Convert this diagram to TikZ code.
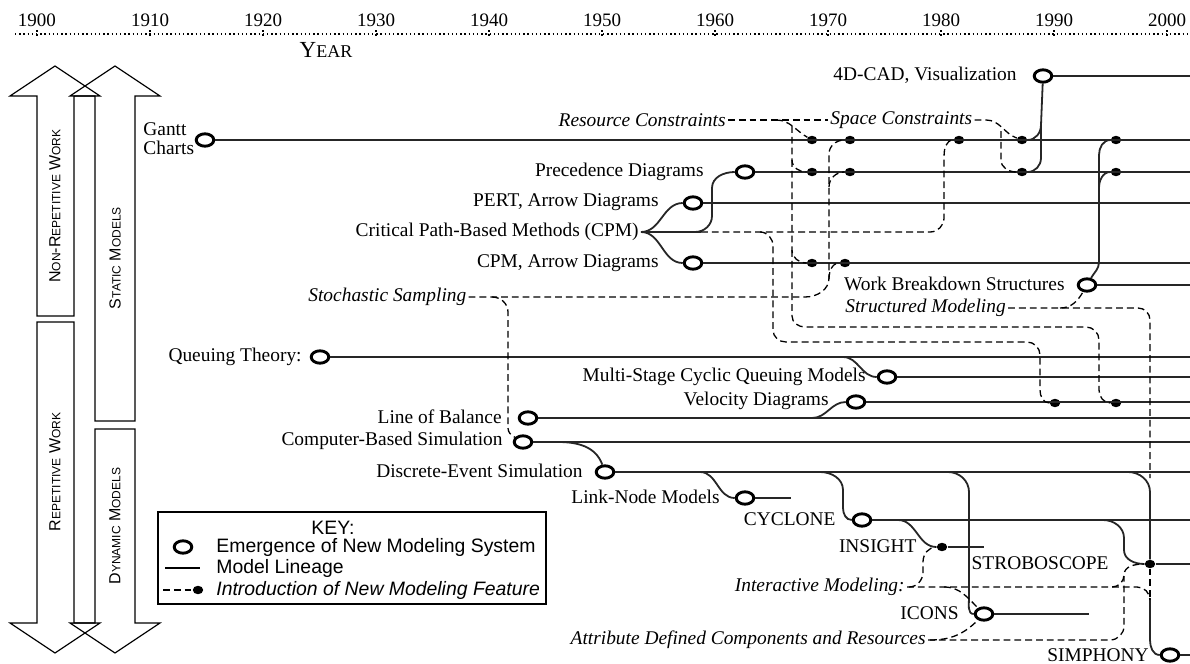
\documentclass[tikz,border=0pt]{standalone}
\usepackage{fontspec}
\setmainfont{Liberation Serif}
\setsansfont{Liberation Sans}
\usetikzlibrary{shapes.geometric,positioning}

\newcommand{\lowcap}[1]{{\fontsize{6}{6}\selectfont #1}}

\tikzset{
  sys/.style={ellipse, draw, line width=1.45pt, minimum width=8.8pt, minimum height=6.2pt, inner sep=0pt},
  feat/.style={ellipse, fill, minimum width=5.2pt, minimum height=4.2pt, inner sep=0pt},
  lineage/.style={line width=0.9pt, black!85},
  ftr/.style={line width=0.65pt, dash pattern=on 3.4pt off 2pt},
  lbl/.style={inner sep=1pt},
  ilbl/.style={inner sep=1pt, font=\fontsize{9.7}{11}\selectfont\itshape},
  band/.style={draw, line width=0.6pt},
  bandtxt/.style={rotate=90, font=\sffamily\fontsize{8}{8}\selectfont},
  keytxt/.style={anchor=west, inner sep=0pt, font=\sffamily\fontsize{9.7}{11}\selectfont},
}

\begin{document}
\begin{tikzpicture}[x=0.5pt, y=-0.5pt, font=\fontsize{9.7}{11}\selectfont]
  \useasboundingbox (0,0) rectangle (1190,664);
  \coordinate (edge) at (1190,0);

  % year scale
  \draw[line width=0.7pt, dash pattern=on 0.7pt off 1.4pt] (15,34) -- (1190,34);
  \foreach \yr [count=\i from 0] in {1900,1910,...,2000} {
    \node[font=\fontsize{9.5}{11}\selectfont] (y\yr) at (37+113*\i,20) {\yr};
    \draw[line width=0.9pt, dash pattern=on 1pt off 1pt] (37+113*\i,30) -- (37+113*\i,37);
  }
  \node (year) at (326,50) {{\fontsize{11.5}{12}\selectfont Y}{\fontsize{9}{10}\selectfont EAR}};

  % work / model bands
  \draw[band] (37,316) -- (37,96) -- (10,96) -- (55,66) -- (100,96) -- (74,96) -- (74,316) -- cycle;
  \draw[band] (37,322) -- (37,623) -- (10,623) -- (55,653) -- (100,623) -- (74,623) -- (74,322) -- cycle;
  \draw[band] (95,421) -- (95,96) -- (70,96) -- (115,66) -- (160,96) -- (135,96) -- (135,421) -- cycle;
  \draw[band] (95,429) -- (95,623) -- (70,623) -- (115,653) -- (160,623) -- (135,623) -- (135,429) -- cycle;
  \node[bandtxt] (nrw) at (55,206) {N\lowcap{ON}-R\lowcap{EPETITIVE} W\lowcap{ORK}};
  \node[bandtxt] (rw) at (55,472) {R\lowcap{EPETITIVE} W\lowcap{ORK}};
  \node[bandtxt] (stat) at (115,258) {S\lowcap{TATIC} M\lowcap{ODELS}};
  \node[bandtxt] (dyn) at (115,526) {D\lowcap{YNAMIC} M\lowcap{ODELS}};

  % systems
  \node[sys] (cad) at (1043,76) {};
  \node[sys] (gantt) at (205,140) {};
  \node[sys] (prec) at (745,172) {};
  \node[sys] (pert) at (693,203) {};
  \node[sys] (cpma) at (693,263) {};
  \node[sys] (wbs) at (1087,285) {};
  \node[sys] (queue) at (320,357) {};
  \node[sys] (multi) at (887,377) {};
  \node[sys] (velo) at (856,402) {};
  \node[sys] (lob) at (528,418) {};
  \node[sys] (cbs) at (523,442) {};
  \node[sys] (des) at (605,472) {};
  \node[sys] (link) at (745,498) {};
  \node[sys] (cyclone) at (862,520) {};
  \node[sys] (icons) at (984,614) {};
  \node[sys] (simphony) at (1170,655) {};
  \node[feat] (insight) at (942,547) {};
  \node[feat] (strobo) at (1150,564) {};

  % feature dots
  \node[feat] (g1) at (812,140) {};
  \node[feat] (g2) at (850,140) {};
  \node[feat] (g3) at (959,140) {};
  \node[feat] (g4) at (1022,140) {};
  \node[feat] (g5) at (1116,140) {};
  \node[feat] (p1) at (812,172) {};
  \node[feat] (p2) at (850,172) {};
  \node[feat] (p3) at (1022,172) {};
  \node[feat] (p4) at (1116,172) {};
  \node[feat] (c1) at (812,263) {};
  \node[feat] (c2) at (845,263) {};
  \node[feat] (v1) at (1055,403) {};
  \node[feat] (v2) at (1116,403) {};

  % labels
  \node[lbl, anchor=east] (lcad) at (1019,75) {4D-CAD, Visualization};
  \node[lbl, anchor=west, align=left, font=\fontsize{9.7}{9.6}\selectfont] (lgantt) at (141,139) {Gantt\\Charts};
  \node[lbl, anchor=east] (lprec) at (706,172) {Precedence Diagrams};
  \node[lbl, anchor=east] (lpert) at (661,202) {PERT, Arrow Diagrams};
  \node[lbl, anchor=east] (crit) at (641,232) {Critical Path-Based Methods (CPM)};
  \node[lbl, anchor=east] (lcpma) at (661,263) {CPM, Arrow Diagrams};
  \node[lbl, anchor=east] (lwbs) at (1067,284) {Work Breakdown Structures};
  \node[lbl, anchor=east] (lqueue) at (304,357) {Queuing Theory:};
  \node[lbl, anchor=east] (lmulti) at (868,377) {Multi-Stage Cyclic Queuing Models};
  \node[lbl, anchor=east] (lvelo) at (831,401) {Velocity Diagrams};
  \node[lbl, anchor=east] (llob) at (504,417) {Line of Balance};
  \node[lbl, anchor=east] (lcbs) at (505,441) {Computer-Based Simulation};
  \node[lbl, anchor=east] (ldes) at (585,471) {Discrete-Event Simulation};
  \node[lbl, anchor=east] (llink) at (722,497) {Link-Node Models};
  \node[lbl, anchor=east] (lcyclone) at (838,519) {CYCLONE};
  \node[lbl, anchor=east] (linsight) at (919,546) {INSIGHT};
  \node[lbl, anchor=east] (lstrobo) at (1111,563) {STROBOSCOPE};
  \node[lbl, anchor=east] (licons) at (961,613) {ICONS};
  \node[lbl, anchor=east] (lsimphony) at (1151,655) {SIMPHONY};
  \node[ilbl, anchor=east] (res) at (728,120) {Resource Constraints};
  \node[ilbl, anchor=west] (spc) at (828,120) {Space Constraints};
  \node[ilbl, anchor=west] (sto) at (306,297) {Stochastic Sampling};
  \node[ilbl, anchor=west] (stm) at (843,308) {Structured Modeling};
  \node[ilbl, anchor=east] (intm) at (907,587) {Interactive Modeling:};
  \node[ilbl, anchor=east] (attr) at (928,640) {Attribute Defined Components and Resources};

  % model lineage
  \foreach \m in {cad,gantt,prec,pert,cpma,wbs,queue,multi,velo,lob,cbs,des,cyclone,strobo,simphony}
    \draw[lineage] (\m) -- (\m -| edge);
  \draw[lineage] (link) -- (791,498);
  \draw[lineage] (insight) -- (984,547);
  \draw[lineage] (icons) -- (1089,614);

  \draw[lineage] (crit.east) to[out=0,in=180] (pert);
  \draw[lineage] (crit.east) to[out=0,in=180] (cpma);
  \draw[lineage] (crit.east) -- (701,232);
  \draw[lineage] (695,232) to[out=0,in=-90] (712,216) -- (712,188) to[out=90,in=180] (prec);
  \draw[lineage] (cad) -- (1041,125) to[out=-90,in=0] (g4);
  \draw[lineage] (1041,125) -- (1041,158) to[out=-90,in=0] (p3);
  \draw[lineage] (wbs) to[out=60,in=-90] (1099,262) -- (1099,155) to[out=90,in=180] (g5);
  \draw[lineage] (1099,188) to[out=90,in=180] (p4);
  \draw[lineage] (843,357) to[out=0,in=180] (multi);
  \draw[lineage] (812,418) to[out=0,in=180] (velo);
  \draw[lineage] (558,442) to[out=0,in=110] (des);
  \draw[lineage] (700,472) to[out=0,in=180] (link);
  \draw[lineage] (820,472) to[out=0,in=90] (843,490) -- (843,508) to[out=-90,in=180] (cyclone);
  \draw[lineage] (898,520) to[out=0,in=180] (insight);
  \draw[lineage] (948,472) to[out=0,in=90] (969,492) -- (969,598) to[out=-90,in=180] (icons);
  \draw[lineage] (1128,472) to[out=0,in=90] (1150,492) -- (strobo);
  \draw[lineage] (1103,520) to[out=0,in=90] (1124,538) -- (1124,550) to[out=-90,in=180] (strobo);
  \draw[lineage] (1150,598) -- (1150,640) to[out=-90,in=180] (simphony);

  % new modeling features
  \draw[ftr] (res) -- (spc);
  \draw[ftr] (776,120) to[out=0,in=150] (g1);
  \draw[ftr] (792,126) -- (792,160) to[out=-90,in=180] (p1);
  \draw[ftr] (792,160) -- (792,250) to[out=-90,in=180] (c1);
  \draw[ftr] (792,250) -- (792,316) to[out=-90,in=180] (805,327) -- (1086,327)
    to[out=0,in=90] (1099,340) -- (1099,390) to[out=-90,in=180] (v2);
  \draw[ftr] (spc) -- (986,120) to[out=0,in=160] (g4);
  \draw[ftr] (1001,131) -- (1001,160) to[out=-90,in=180] (p3);
  \draw[ftr] (701,232) -- (930,232) to[out=0,in=-90] (944,218) -- (944,156) to[out=90,in=180] (g3);
  \draw[ftr] (760,232) to[out=0,in=90] (773,246) -- (773,330) to[out=-90,in=180] (786,342) -- (1027,342)
    to[out=0,in=90] (1040,355) -- (1040,390) to[out=-90,in=180] (v1);
  \draw[ftr] (sto) -- (805,297) to[out=0,in=-90] (829,278) -- (829,154) to[out=90,in=180] (g2);
  \draw[ftr] (829,279) to[out=90,in=180] (c2);
  \draw[ftr] (829,187) to[out=90,in=180] (p2);
  \draw[ftr] (492,297) to[out=0,in=90] (508,312) -- (508,428) to[out=-90,in=150] (cbs);
  \draw[ftr] (stm) -- (1138,308) to[out=0,in=90] (1150,320) -- (1150,478);
  \draw[ftr] (1060,308) to[out=0,in=-120] (wbs);
  \draw[ftr] (strobo) -- (1150,598);
  \draw[ftr] (intm) -- (1112,587) to[out=0,in=-90] (1124,575) to[out=90,in=180] (strobo);
  \draw[ftr] (909,587) to[out=0,in=-90] (923,572) -- (923,562) to[out=90,in=180] (insight);
  \draw[ftr] (944,587) to[out=0,in=135] (icons);
  \draw[ftr] (1112,587) -- (1137,587) to[out=0,in=90] (1150,600);
  \draw[ftr] (attr) -- (1110,640) to[out=0,in=-90] (1124,626) -- (1124,576);
  \draw[ftr] (930,640) to[out=0,in=-135] (icons);

  % key
  \draw[line width=0.8pt] (158,512) rectangle (546,604);
  \node[font=\sffamily\fontsize{9.7}{11}\selectfont] (key) at (333,528) {KEY:};
  \node[sys] (ksys) at (183,547) {};
  \node[keytxt] (ktxt1) at (216,547) {Emergence of New Modeling System};
  \draw[line width=0.6pt] (165,568) -- (200,568);
  \node[keytxt] (ktxt2) at (216,568) {Model Lineage};
  \node[feat] (kdot) at (198,590) {};
  \draw[ftr] (163,590) -- (kdot);
  \node[keytxt, font=\sffamily\itshape\fontsize{9.7}{11}\selectfont] (ktxt3) at (216,590) {Introduction of New Modeling Feature};
\end{tikzpicture}
\end{document}
